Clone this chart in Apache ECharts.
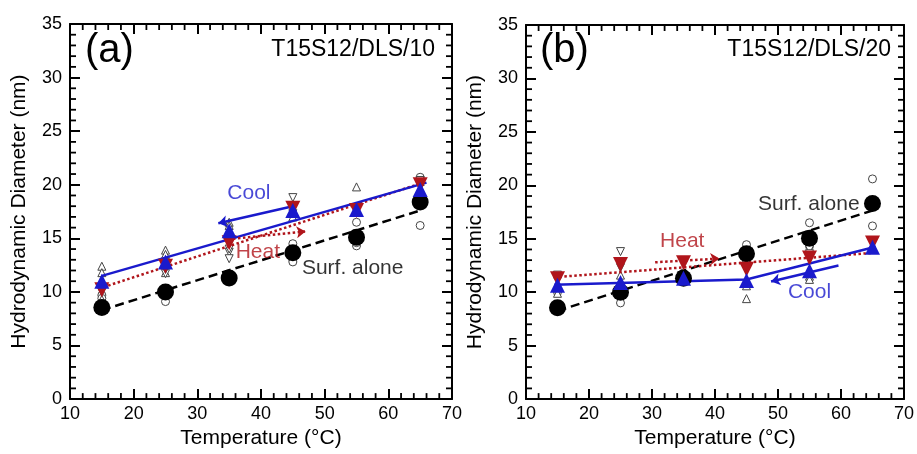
<!DOCTYPE html>
<html><head><meta charset="utf-8">
<script src="https://cdn.jsdelivr.net/npm/echarts@6/dist/echarts.min.js"></script>
<style>html,body{margin:0;padding:0;background:#fff}#c{width:917px;height:454px}</style>
</head><body><div id="c"></div>
<script>
// ---- data ----
const temps = [15, 25, 35, 45, 55, 65];
const xTicks = [10, 20, 30, 40, 50, 60, 70];
const yTicks = [0, 5, 10, 15, 20, 25, 30, 35];
const xMinor = [12,14,16,18,22,24,26,28,32,34,36,38,42,44,46,48,52,54,56,58,62,64,66,68];
const yMinor = [1,2,3,4,6,7,8,9,11,12,13,14,16,17,18,19,21,22,23,24,26,27,28,29,31,32,33,34];

// panel (a) T15S12/DLS/10
const surfA = [8.55, 10.0, 11.3, 13.65, 15.1, 18.4];
const heatA = [10.2, 12.4, 14.6, 17.8, 17.6, 20.0];
const coolA = [11.0, 12.8, 15.7, 17.6, 17.7, 19.55];
const openCircA = [[15,9.7],[15,9.4],[25,10.3],[25,10.0],[25,9.1],[35,11.0],[45,14.5],[45,13.0],[45,12.8],[55,16.5],[55,14.3],[55,14.6],[65,20.7],[65,16.2]];
const openUpA = [[15,12.4],[15,11.8],[15,9.3],[25,13.9],[25,13.5],[25,11.8],[35,16.5],[35,16.2],[45,17.0],[55,19.8],[65,20.3]];
const openDownA = [[15,10.0],[15,10.4],[25,11.7],[25,12.1],[35,13.7],[35,13.1],[35,14.0],[45,18.8],[45,17.3],[65,20.4]];
const fitSurfA = [[15, 8.3], [65, 17.6]];
const fitHeatA = [[14.5, 10.3], [66, 20.3]];
const fitCoolA = [[15, 11.5], [66, 20.2]];
const arrowHeatA = [[35.6, 14.95], [47, 15.65]];
const arrowCoolA = [[45, 18.0], [33.3, 16.4]];

// panel (b) T15S12/DLS/20
const surfB = [8.55, 10.0, 11.3, 13.6, 15.05, 18.3];
const heatB = [11.25, 12.6, 12.75, 12.15, 13.2, 14.6];
const coolB = [10.65, 10.9, 11.3, 11.1, 12.0, 14.2];
const openCircB = [[15,11.5],[15,10.0],[25,9.0],[25,10.5],[35,11.0],[35,11.8],[45,14.45],[45,12.8],[55,16.5],[55,14.3],[65,20.6],[65,16.2]];
const openUpB = [[15,10.4],[15,9.9],[25,11.6],[35,11.5],[45,9.4],[45,10.6],[55,11.5],[55,11.2],[65,14.3]];
const openDownB = [[15,11.6],[25,13.8],[25,12.3],[35,12.9],[45,12.6],[55,14.0],[55,13.6],[65,14.8]];
const fitSurfB = [[15, 8.25], [65, 17.65]];
const fitHeatB = [[14.5, 11.4], [65.5, 13.7]];
const fitCoolB = [[14.5, 10.7], [45, 11.2], [65.5, 14.25]];
const arrowHeatB = [[30.5, 12.8], [40.7, 13.15]];
const arrowCoolB = [[59.6, 12.5], [48.9, 11.0]];

// annotation anchors (data coords)
const notesA = [['Cool', 38.1, 19.25, 'cool'], ['Heat', 39.5, 13.75, 'heat'], ['Surf. alone', 54.4, 12.2, 'surf']];
const notesB = [['Heat', 34.8, 14.75, 'heat'], ['Cool', 55.0, 10.0, 'cool'], ['Surf. alone', 54.9, 18.2, 'surf']];

// ---- styles ----
const FONT = 'Liberation Sans, Arial, Helvetica, sans-serif';
const C = { surf: '#000000', heat: '#b0151b', cool: '#1a1acc', open: '#444444' };
const X0 = xTicks[0], X1 = xTicks[xTicks.length - 1], Y0 = yTicks[0], Y1 = yTicks[yTicks.length - 1];

function pair(xs, ys) { return xs.map((x, i) => [x, ys[i]]); }

function xAx(gi, pos) {
  const main = pos === 'bottom';
  return {
    gridIndex: gi, type: 'value', position: pos, min: X0, max: X1, interval: 10,
    axisLine: { show: true, onZero: false, lineStyle: { color: '#000', width: 2 } },
    axisTick: { show: true, inside: true, length: 10, lineStyle: { color: '#000', width: 2 } },
    splitLine: { show: false },
    axisLabel: { show: main, color: '#000', fontSize: 18, margin: 6, fontFamily: FONT },
    name: main ? 'Temperature (°C)' : '', nameLocation: 'middle', nameGap: 25,
    nameTextStyle: { color: '#000', fontSize: 21, fontFamily: FONT }
  };
}
function yAx(gi, pos) {
  const main = pos === 'left';
  return {
    gridIndex: gi, type: 'value', position: pos, min: Y0, max: Y1, interval: 5,
    axisLine: { show: true, onZero: false, lineStyle: { color: '#000', width: 2 } },
    axisTick: { show: true, inside: true, length: 10, lineStyle: { color: '#000', width: 2 } },
    splitLine: { show: false },
    axisLabel: { show: main, color: '#000', fontSize: 18, margin: 8, fontFamily: FONT },
    name: main ? 'Hydrodynamic Diameter (nm)' : '', nameLocation: 'middle', nameGap: 40, nameRotate: 90,
    nameTextStyle: { color: '#000', fontSize: 21, fontFamily: FONT }
  };
}

// minor ticks as thin rect symbols placed through the axis scales
function minorTicks(ax) {
  const L = 6, W = 1.8;
  const common = { type: 'scatter', xAxisIndex: ax, yAxisIndex: ax, symbol: 'rect', clip: false, silent: true, z: 10,
    itemStyle: { color: '#000', opacity: 1 } };
  return [
    Object.assign({}, common, { data: xMinor.map(v => [v, Y0]), symbolSize: [W, L], symbolOffset: [0, -L / 2] }),
    Object.assign({}, common, { data: xMinor.map(v => [v, Y1]), symbolSize: [W, L], symbolOffset: [0, L / 2] }),
    Object.assign({}, common, { data: yMinor.map(v => [X0, v]), symbolSize: [L, W], symbolOffset: [L / 2, 0] }),
    Object.assign({}, common, { data: yMinor.map(v => [X1, v]), symbolSize: [L, W], symbolOffset: [-L / 2, 0] })
  ];
}

function panelSeries(ax, d) {
  const base = { xAxisIndex: ax, yAxisIndex: ax };
  const openStyle = { color: '#fff', borderColor: C.open, borderWidth: 1, opacity: 1 };
  const s = minorTicks(ax);
  s.push(Object.assign({ type: 'scatter', data: d.openCirc, symbol: 'circle', symbolSize: 8, itemStyle: openStyle, z: 2, silent: true }, base));
  s.push(Object.assign({ type: 'scatter', data: d.openUp, symbol: 'triangle', symbolSize: 8, itemStyle: openStyle, z: 2, silent: true }, base));
  s.push(Object.assign({ type: 'scatter', data: d.openDown, symbol: 'triangle', symbolRotate: 180, symbolSize: 8, itemStyle: openStyle, z: 2, silent: true }, base));
  s.push(Object.assign({ type: 'lines', coordinateSystem: 'cartesian2d', polyline: true, symbol: ['none', 'none'],
    lineStyle: { color: C.surf, width: 2.5, type: [9, 5], opacity: 1 }, data: [{ coords: d.fitSurf }], z: 3 }, base));
  s.push(Object.assign({ type: 'lines', coordinateSystem: 'cartesian2d', polyline: true, symbol: ['none', d.heatArrowEnd ? 'arrow' : 'none'], symbolSize: 9,
    lineStyle: { color: C.heat, width: 2.5, type: [2.5, 2.5], opacity: 1 }, data: [{ coords: d.fitHeat }], z: 3 }, base));
  s.push(Object.assign({ type: 'lines', coordinateSystem: 'cartesian2d', polyline: true, symbol: ['none', 'none'],
    lineStyle: { color: C.cool, width: 2.5, opacity: 1 }, data: [{ coords: d.fitCool }], z: 3 }, base));
  s.push(Object.assign({ type: 'lines', coordinateSystem: 'cartesian2d', symbol: ['none', 'arrow'], symbolSize: 9,
    lineStyle: { color: C.heat, width: 2.5, type: [2.5, 2.5], opacity: 1 }, data: [{ coords: d.arrowHeat }], z: 3 }, base));
  s.push(Object.assign({ type: 'lines', coordinateSystem: 'cartesian2d', symbol: ['none', 'arrow'], symbolSize: 9,
    lineStyle: { color: C.cool, width: 2.5, opacity: 1 }, data: [{ coords: d.arrowCool }], z: 3 }, base));
  s.push(Object.assign({ type: 'scatter', data: pair(temps, d.surf), symbol: 'circle', symbolSize: 17, itemStyle: { color: C.surf, opacity: 1 }, z: 4 }, base));
  s.push(Object.assign({ type: 'scatter', data: pair(temps, d.heat), symbol: 'triangle', symbolRotate: 180, symbolSize: 15, itemStyle: { color: C.heat, opacity: 1 }, z: 4 }, base));
  s.push(Object.assign({ type: 'scatter', data: pair(temps, d.cool), symbol: 'triangle', symbolSize: 15, itemStyle: { color: C.cool, opacity: 1 }, z: 5 }, base));
  s.push(Object.assign({ type: 'scatter', symbolSize: 1, itemStyle: { color: 'rgba(0,0,0,0)' }, z: 6, silent: true,
    data: d.notes.map(n => ({ value: [n[1], n[2]], label: { show: true, position: 'inside', formatter: n[0], color: C[n[3]], fontSize: 21, fontFamily: FONT } })) }, base));
  return s;
}

const chart = echarts.init(document.getElementById('c'), null, { renderer: 'canvas' });
chart.setOption({
  animation: false,
  backgroundColor: '#fff',
  grid: [
    { left: 70, top: 24, width: 382, height: 381 },
    { left: 526, top: 25, width: 382, height: 381 }
  ],
  xAxis: [xAx(0, 'bottom'), xAx(0, 'top'), xAx(1, 'bottom'), xAx(1, 'top')],
  yAxis: [yAx(0, 'left'), yAx(0, 'right'), yAx(1, 'left'), yAx(1, 'right')],
  title: [
    { text: '(a)', left: 80, top: 26, textStyle: { fontSize: 40, fontWeight: 'normal', color: '#000', fontFamily: FONT } },
    { text: 'T15S12/DLS/10', right: 917 - 440, top: 33, textStyle: { fontSize: 23, fontWeight: 'normal', color: '#000', fontFamily: FONT } },
    { text: '(b)', left: 535, top: 26, textStyle: { fontSize: 40, fontWeight: 'normal', color: '#000', fontFamily: FONT } },
    { text: 'T15S12/DLS/20', right: 917 - 896, top: 33, textStyle: { fontSize: 23, fontWeight: 'normal', color: '#000', fontFamily: FONT } }
  ],
  series: [].concat(
    panelSeries(0, { surf: surfA, heat: heatA, cool: coolA, openCirc: openCircA, openUp: openUpA, openDown: openDownA,
      fitSurf: fitSurfA, fitHeat: fitHeatA, fitCool: fitCoolA, arrowHeat: arrowHeatA, arrowCool: arrowCoolA, heatArrowEnd: true, notes: notesA }),
    panelSeries(2, { surf: surfB, heat: heatB, cool: coolB, openCirc: openCircB, openUp: openUpB, openDown: openDownB,
      fitSurf: fitSurfB, fitHeat: fitHeatB, fitCool: fitCoolB, arrowHeat: arrowHeatB, arrowCool: arrowCoolB, heatArrowEnd: false, notes: notesB })
  )
});
</script></body></html>
